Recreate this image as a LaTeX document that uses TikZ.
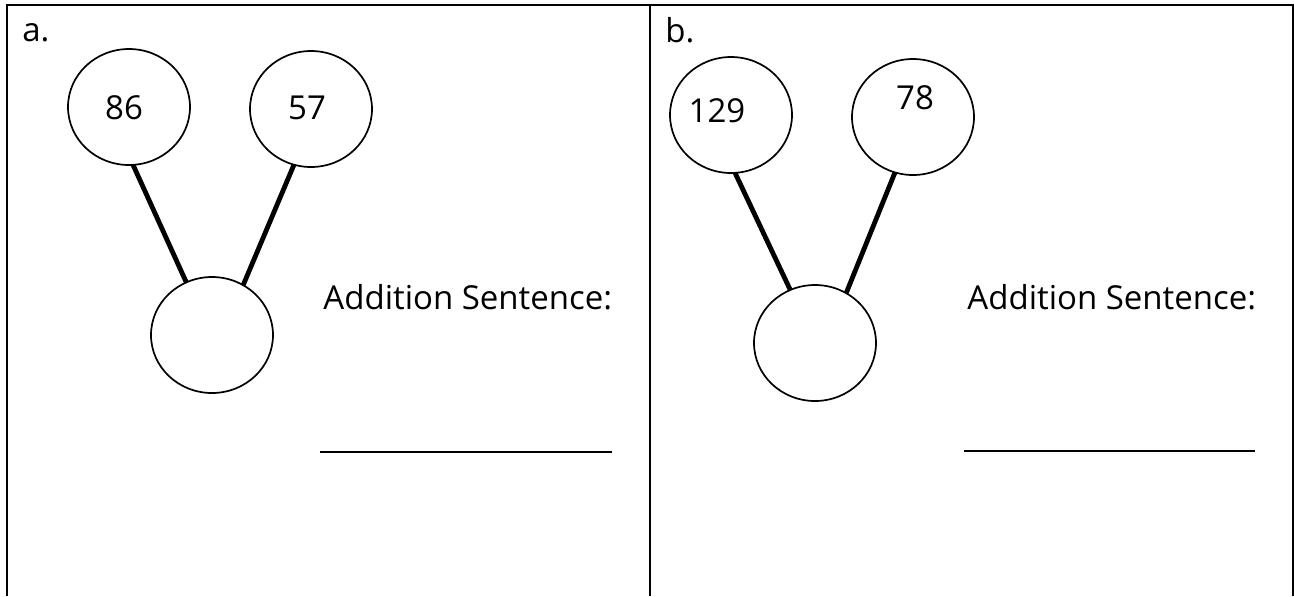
\documentclass[tikz,border=0pt]{standalone}
\usepackage{fontspec}
\setmainfont{Open Sans}
\usetikzlibrary{shapes.geometric}

\begin{document}
\begin{tikzpicture}[x=0.5pt,y=-0.5pt,
  bubble/.style={draw, ellipse, line width=0.85pt, minimum width=61pt, minimum height=58pt, inner sep=0pt, outer sep=0pt},
  num/.style={font=\fontsize{16.5}{19}\selectfont, inner sep=0pt},
  stem/.style={line width=2.4pt},
  frame/.style={line width=1.25pt},
  blank/.style={line width=1.2pt},
  txt/.style={font=\fontsize{16.5}{19}\selectfont, anchor=base west, inner sep=0pt}]
  \useasboundingbox (0,0) rectangle (1294,596);

  %% frame
  \draw[frame] (7,596) -- (7,5) -- (1293,5) -- (1293,596);
  \draw[frame] (650,5) -- (650,596);

  %% part a
  \node[txt] (la) at (22,41) {a.};
  \node[bubble, label={[num,xshift=-2.5pt,yshift=-0.5pt]center:86}] (a1) at (129,107) {};
  \node[bubble, label={[num,xshift=-2pt,yshift=0.5pt]center:57}] (a2) at (311,109) {};
  \node[bubble] (a3) at (212,335) {};
  \draw[stem] (a1.-86) -- (a3.116);
  \draw[stem] (a2.-107) -- (a3.58);
  \node[txt] (sa) at (323,309) {Addition Sentence:};
  \draw[blank] (320,452) -- (612,452);

  %% part b
  \node[txt] (lb) at (665,42) {b.};
  \node[bubble, label={[num,xshift=-7pt,yshift=2pt]center:129}] (b1) at (731,115) {};
  \node[bubble, label={[num,xshift=1pt,yshift=9.5pt]center:78}] (b2) at (913,117) {};
  \node[bubble] (b3) at (815,343) {};
  \draw[stem] (b1.-86) -- (b3.115);
  \draw[stem] (b2.-108) -- (b3.58);
  \node[txt] (sb) at (967,309) {Addition Sentence:};
  \draw[blank] (964,451) -- (1255,451);

\end{tikzpicture}
\end{document}
